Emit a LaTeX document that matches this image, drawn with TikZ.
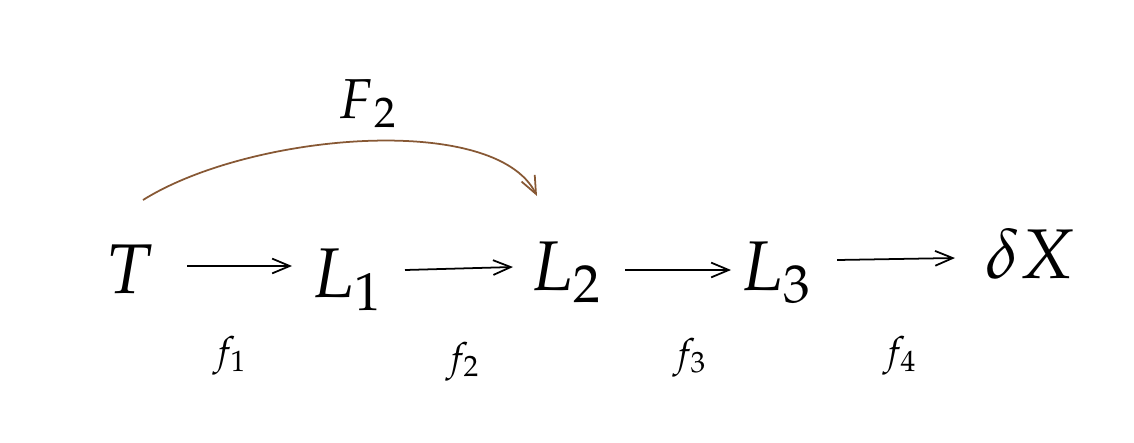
\documentclass[tikz,border=0pt]{standalone}
\usepackage{mathpazo}
\usetikzlibrary{arrows.meta,calc}
\definecolor{curvebrown}{RGB}{135,88,52}
\tikzset{
  big/.style={inner sep=0pt, anchor=base, font=\fontsize{20}{24}\selectfont},
  mid/.style={inner sep=0pt, anchor=base, font=\fontsize{16}{19}\selectfont},
  small/.style={inner sep=0pt, anchor=base, font=\fontsize{11}{13}\selectfont},
  arr/.style={line width=0.5pt, -{Straight Barb[length=5pt,width=4.2pt]}},
  barr/.style={line width=0.5pt, draw=curvebrown, -{Straight Barb[length=5pt,width=4.2pt]}}
}
\begin{document}
\begin{tikzpicture}[x=0.01cm,y=-0.01cm]
\useasboundingbox (0,0) rectangle (1134,442);
\node[big] (T) at (129,293) {$T$};
\node[big] (L1) at (347,297) {$L_1$};
\node[big] (L2) at (566,290) {$L_2$};
\node[big] (L3) at (776,290) {$L_3$};
\node[big] (dX) at (1030,278) {$\delta X$};
\node[mid] (F2) at (368,118) {$F_{\,2}$};
\node[small] (f1) at (230,364) {$f_1$};
\node[small] (f2) at (463,370) {$f_2$};
\node[small] (f3) at (690,366) {$f_3$};
\node[small] (f4) at (900,364) {$f_4$};
\draw[arr] ($(T.base)+(58,-27)$) -- ($(L1.base)+(-55,-31)$);
\draw[arr] ($(L1.base)+(58,-27)$) -- ($(L2.base)+(-53,-23)$);
\draw[arr] ($(L2.base)+(59,-20)$) -- ($(L3.base)+(-45,-20)$);
\draw[arr] ($(L3.base)+(61,-30)$) -- ($(dX.base)+(-75,-20)$);
\draw[barr] ($(T.base)+(14,-93)$) .. controls (250,133) and (495,112) .. ($(L2.base)+(-29,-94)$);
\end{tikzpicture}
\end{document}
